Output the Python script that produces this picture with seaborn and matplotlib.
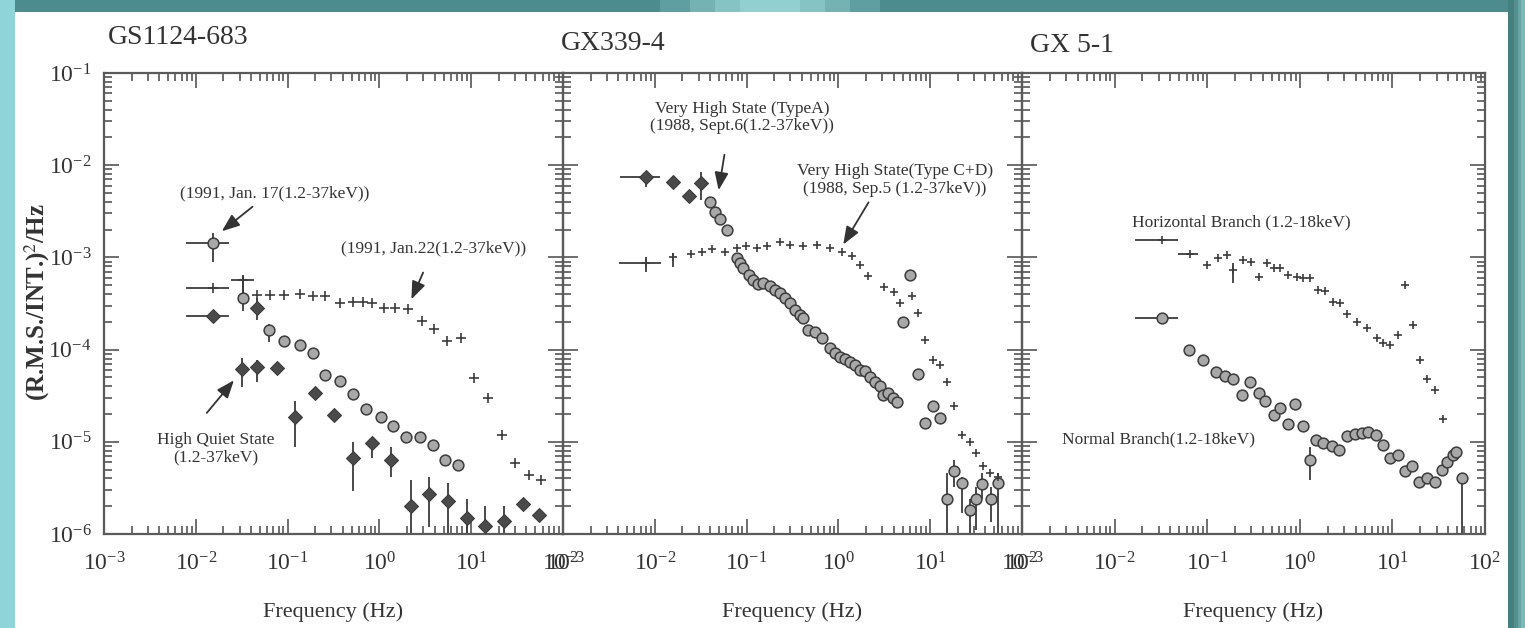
import matplotlib
matplotlib.use("Agg")
import matplotlib.pyplot as plt
import seaborn as sns
import numpy as np
from matplotlib.patches import Rectangle
from matplotlib.ticker import LogLocator, NullFormatter

sns.set_theme(style="white")
plt.rcParams['font.family'] = ['Liberation Serif', 'DejaVu Serif']
plt.rcParams['mathtext.fontset'] = 'stix'

# ---------------- data ----------------
# Panel 1: GS1124-683
p1_jan17_f = [0.0154]
p1_jan17_p = [1.42e-3]
p1_jan22_f = [0.0154, 0.0324, 0.047, 0.065, 0.092, 0.138, 0.189, 0.258, 0.37, 0.51, 0.66, 0.83,
              1.13, 1.48, 2.03, 2.9, 3.98, 5.4, 7.8, 10.7, 15.2, 21.7, 29.7, 42.5, 57]
p1_jan22_p = [4.65e-4, 5.7e-4, 3.9e-4, 3.9e-4, 3.9e-4, 4.0e-4, 3.8e-4, 3.8e-4, 3.2e-4, 3.3e-4, 3.3e-4, 3.2e-4,
              2.8e-4, 2.8e-4, 2.75e-4, 2.06e-4, 1.66e-4, 1.25e-4, 1.33e-4, 4.9e-5, 3.0e-5, 1.18e-5, 5.9e-6, 4.4e-6, 3.9e-6]
p1_dia_f = [0.0154, 0.047]
p1_dia_p = [2.3e-4, 2.8e-4]
p1_circ_f = [0.0324, 0.062, 0.092, 0.138, 0.189, 0.258, 0.37, 0.51, 0.72, 1.03, 1.41, 1.94, 2.77, 3.8, 5.2, 7.1]
p1_circ_p = [3.6e-4, 1.62e-4, 1.25e-4, 1.12e-4, 9.1e-5, 5.3e-5, 4.6e-5, 3.3e-5, 2.25e-5, 1.86e-5, 1.5e-5,
             1.13e-5, 1.13e-5, 9.2e-6, 6.4e-6, 5.6e-6]
p1_hqs_f = [0.0315, 0.047, 0.077, 0.121, 0.197, 0.32, 0.51, 0.83, 1.35, 2.2, 3.5, 5.6, 8.9, 14.3, 22.7, 37, 55]
p1_hqs_p = [6.2e-5, 6.4e-5, 6.3e-5, 1.85e-5, 3.4e-5, 1.95e-5, 6.6e-6, 9.6e-6, 6.4e-6, 2.0e-6, 2.7e-6, 2.3e-6,
            1.5e-6, 1.23e-6, 1.38e-6, 2.1e-6, 1.6e-6]
p1_err_f = [0.0154, 0.0154, 0.0324, 0.0154, 0.0324, 0.047, 0.062, 0.0315, 0.047, 0.121, 0.51, 0.83, 1.35,
            2.2, 3.5, 5.6, 8.9, 14.3, 22.7]
p1_err_p = [1.42e-3, 4.65e-4, 5.7e-4, 2.3e-4, 3.6e-4, 2.8e-4, 1.62e-4, 6.2e-5, 6.4e-5, 1.85e-5, 6.6e-6, 9.6e-6,
            6.4e-6, 2.0e-6, 2.7e-6, 2.3e-6, 1.5e-6, 1.23e-6, 1.38e-6]
p1_err_flo = [0.00785, 0.00785, 0.024, 0.00785, 0.0324, 0.047, 0.062, 0.0315, 0.047, 0.121, 0.51, 0.83, 1.35,
              2.2, 3.5, 5.6, 8.9, 14.3, 22.7]
p1_err_fhi = [0.023, 0.023, 0.043, 0.023, 0.0324, 0.047, 0.062, 0.0315, 0.047, 0.121, 0.51, 0.83, 1.35,
              2.2, 3.5, 5.6, 8.9, 14.3, 22.7]
p1_err_plo = [8.9e-4, 4.65e-4, 4.1e-4, 2.3e-4, 2.6e-4, 2.1e-4, 1.2e-4, 3.9e-5, 4.5e-5, 8.7e-6, 2.9e-6, 6.6e-6,
              4.2e-6, 1.0e-6, 1.2e-6, 1.0e-6, 1.0e-6, 1.0e-6, 1.0e-6]
p1_err_phi = [1.84e-3, 4.65e-4, 6.4e-4, 2.3e-4, 6.2e-4, 3.6e-4, 1.9e-4, 8.1e-5, 7.7e-5, 2.8e-5, 1.0e-5, 1.12e-5,
              8.7e-6, 3.9e-6, 4.2e-6, 3.6e-6, 2.4e-6, 2.0e-6, 2.0e-6]

# Panel 2: GX339-4
p2_a_dia_f = [0.0080, 0.0158, 0.0238, 0.0319]
p2_a_dia_p = [7.4e-3, 6.5e-3, 4.6e-3, 6.4e-3]
p2_a_circ_f = [0.040, 0.045, 0.051, 0.061, 0.078, 0.0848, 0.092, 0.105, 0.118, 0.134, 0.152, 0.18, 0.204,
               0.231, 0.263, 0.297, 0.337, 0.38, 0.415, 0.47, 0.556, 0.657, 0.81, 0.918, 1.04, 1.18, 1.34,
               1.52, 1.72, 1.95, 2.21, 2.5, 2.84, 3.08, 3.5, 3.96, 4.37,
               5.1, 6.0, 7.4, 8.8, 10.6, 12.8, 15.1, 18.3, 22, 27, 31.5, 37, 45.5, 55]
p2_a_circ_p = [4.0e-3, 3.1e-3, 2.6e-3, 2.0e-3, 9.8e-4, 8.6e-4, 7.6e-4, 6.45e-4, 5.7e-4, 5.2e-4, 5.3e-4, 4.9e-4,
               4.4e-4, 4.07e-4, 3.6e-4, 3.17e-4, 2.7e-4, 2.37e-4, 2.19e-4, 1.63e-4, 1.56e-4, 1.32e-4, 1.03e-4,
               9.1e-5, 8.4e-5, 8.0e-5, 7.4e-5, 6.8e-5, 6.0e-5, 5.8e-5, 5.1e-5, 4.5e-5, 4.0e-5, 3.2e-5, 3.4e-5,
               2.95e-5, 2.7e-5,
               2.0e-4, 6.4e-4, 5.5e-5, 1.6e-5, 2.45e-5, 1.8e-5, 2.4e-6, 4.8e-6, 3.6e-6, 1.8e-6, 2.4e-6, 3.5e-6,
               2.4e-6, 3.6e-6]
p2_cd_f = [0.0080, 0.0158, 0.0251, 0.0325, 0.0417, 0.058, 0.078, 0.099, 0.129, 0.166, 0.231, 0.297, 0.41,
           0.58, 0.81, 1.09, 1.40, 1.72, 2.12, 3.1, 4.0, 4.7, 6.3, 7.4, 8.8, 10.7, 12.8, 15.4, 18.3, 22, 27,
           31.5, 38, 45, 55]
p2_cd_p = [8.8e-4, 1.0e-3, 1.1e-3, 1.15e-3, 1.23e-3, 1.15e-3, 1.25e-3, 1.32e-3, 1.25e-3, 1.32e-3, 1.48e-3,
           1.36e-3, 1.32e-3, 1.36e-3, 1.25e-3, 1.15e-3, 1.03e-3, 8.3e-4, 6.3e-4, 4.8e-4, 4.2e-4, 3.2e-4, 3.8e-4,
           2.5e-4, 1.26e-4, 7.7e-5, 6.8e-5, 4.4e-5, 2.45e-5, 1.18e-5, 1.0e-5, 7.5e-6, 5.4e-6, 4.6e-6, 4.2e-6]
p2_err_f = [0.0080, 0.0319, 0.0080, 0.0158, 15.1, 18.3, 22, 27, 31.5, 37, 45.5, 55]
p2_err_p = [7.4e-3, 6.4e-3, 8.8e-4, 1.0e-3, 2.4e-6, 4.8e-6, 3.6e-6, 1.8e-6, 2.4e-6, 3.5e-6, 2.4e-6, 3.6e-6]
p2_err_flo = [0.0042, 0.0319, 0.0041, 0.0158, 15.1, 18.3, 22, 27, 31.5, 37, 45.5, 55]
p2_err_fhi = [0.0115, 0.0319, 0.0118, 0.0158, 15.1, 18.3, 22, 27, 31.5, 37, 45.5, 55]
p2_err_plo = [5.8e-3, 4.2e-3, 7.0e-4, 7.8e-4, 1.0e-6, 3.2e-6, 1.7e-6, 1.0e-6, 1.1e-6, 2.4e-6, 1.35e-6, 1.0e-6]
p2_err_phi = [8.4e-3, 8.4e-3, 1.0e-3, 1.13e-3, 4.6e-6, 6.3e-6, 4.2e-6, 2.4e-6, 3.2e-6, 4.6e-6, 3.2e-6, 4.6e-6]

# Panel 3: GX 5-1
p3_hb_f = [0.0325, 0.065, 0.099, 0.132, 0.162, 0.188, 0.245, 0.30, 0.36, 0.44, 0.52, 0.61, 0.75, 0.925,
           1.09, 1.29, 1.58, 1.87, 2.27, 2.72, 3.2, 4.1, 5.3, 6.8, 7.9, 9.4, 11.5, 13.7, 16.8, 19.9, 23.5,
           28.8, 35]
p3_hb_p = [1.55e-3, 1.1e-3, 8.3e-4, 9.8e-4, 1.06e-3, 7.3e-4, 9.3e-4, 9.0e-4, 6.2e-4, 8.6e-4, 7.6e-4, 7.6e-4,
           6.4e-4, 6.2e-4, 6.0e-4, 6.0e-4, 4.4e-4, 4.3e-4, 3.3e-4, 3.2e-4, 2.44e-4, 2.0e-4, 1.7e-4, 1.32e-4,
           1.17e-4, 1.12e-4, 1.44e-4, 5.0e-4, 1.87e-4, 7.7e-5, 4.8e-5, 3.65e-5, 1.75e-5]
p3_nb_f = [0.0325, 0.063, 0.091, 0.126, 0.155, 0.188, 0.236, 0.29, 0.36, 0.42, 0.52, 0.61, 0.75, 0.89, 1.07,
           1.29, 1.51, 1.79, 2.21, 2.67, 3.2, 3.95, 4.7, 5.5, 6.65, 7.9, 9.4, 11.6, 13.7, 16.1, 19.6, 23.8,
           28.8, 34, 39, 45.5, 49, 57]
p3_nb_p = [2.2e-4, 1.0e-4, 7.7e-5, 5.7e-5, 5.2e-5, 4.8e-5, 3.2e-5, 4.4e-5, 3.4e-5, 2.8e-5, 1.94e-5, 2.3e-5,
           1.55e-5, 2.56e-5, 1.5e-5, 6.3e-6, 1.05e-5, 9.6e-6, 8.9e-6, 8.2e-6, 1.15e-5, 1.23e-5, 1.25e-5,
           1.29e-5, 1.18e-5, 9.3e-6, 6.6e-6, 7.2e-6, 4.8e-6, 5.5e-6, 3.7e-6, 4.0e-6, 3.7e-6, 4.9e-6, 6.0e-6,
           7.2e-6, 7.8e-6, 4.0e-6]
p3_err_f = [0.0325, 0.065, 0.188, 0.0325, 1.29, 57]
p3_err_p = [1.55e-3, 1.1e-3, 7.3e-4, 2.2e-4, 6.3e-6, 4.0e-6]
p3_err_flo = [0.0166, 0.0484, 0.188, 0.0166, 1.29, 57]
p3_err_fhi = [0.0484, 0.079, 0.188, 0.0484, 1.29, 57]
p3_err_plo = [1.55e-3, 1.1e-3, 5.3e-4, 2.2e-4, 3.9e-6, 1.0e-6]
p3_err_phi = [1.55e-3, 1.1e-3, 8.8e-4, 2.2e-4, 8.7e-6, 4.6e-6]

titles = ["GS1124-683", "GX339-4", "GX 5-1"]
xlabel = "Frequency (Hz)"
ylabel = "(R.M.S./INT.)$^2$/Hz"

# ---------------- figure ----------------
W, H = 1525, 628
fig = plt.figure(figsize=(W / 100, H / 100), dpi=100)
fig.patch.set_facecolor('#5a9a9c')


def frect(x0, y0, x1, y1, color, z=-10, alpha=1.0):
    fig.add_artist(Rectangle((x0 / W, 1 - y1 / H), (x1 - x0) / W, (y1 - y0) / H,
                             transform=fig.transFigure, color=color, zorder=z, lw=0, alpha=alpha))


# decorative slide background
frect(0, 0, W, 12, '#4d8c8e')
for half, a in [(110, 0.25), (80, 0.35), (55, 0.45), (30, 0.6)]:
    frect(770 - half, 0, 770 + half, 12, '#9ad8da', alpha=a)
frect(0, 0, 15, H, '#8fd4d9')
frect(1508, 0, W, H, '#45807f')
frect(1514, 0, W, H, '#558f8f')
frect(1518, 0, W, H, '#68a6a6')
frect(1521, 0, W, H, '#7cbaba')
frect(15, 12, 1508, H, 'white', z=-9)

INK = '#3c3c3c'
GRAY_FILL = '#a8a8a8'

bottom = 1 - 534 / H
height = (534 - 73) / H
lefts = [104, 563, 1022]
rights = [563, 1022, 1485]
axes = []
for l, r in zip(lefts, rights):
    ax = fig.add_axes([l / W, bottom, (r - l) / W, height])
    ax.set_facecolor('none')
    axes.append(ax)


def draw_err(ax, f, p, flo, fhi, plo, phi):
    f = np.array(f); p = np.array(p)
    xerr = [f - np.array(flo), np.array(fhi) - f]
    yerr = [p - np.array(plo), np.array(phi) - p]
    ax.errorbar(f, p, xerr=xerr, yerr=yerr, fmt='none', ecolor=INK, elinewidth=1.3, capsize=0, zorder=2)


def circles(ax, f, p):
    sns.scatterplot(x=f, y=p, ax=ax, marker='o', s=60, color=GRAY_FILL, edgecolor=INK, linewidth=1.1, zorder=3)


def diamonds(ax, f, p):
    sns.scatterplot(x=f, y=p, ax=ax, marker='D', s=50, color='#4a4a4a', edgecolor=INK, linewidth=0.8, zorder=3)


def pluses(ax, f, p, s=55):
    sns.scatterplot(x=f, y=p, ax=ax, marker='+', s=s, color=INK, linewidth=1.2, zorder=3)


ax1, ax2, ax3 = axes
# panel 1
draw_err(ax1, p1_err_f, p1_err_p, p1_err_flo, p1_err_fhi, p1_err_plo, p1_err_phi)
circles(ax1, p1_jan17_f, p1_jan17_p)
pluses(ax1, p1_jan22_f, p1_jan22_p)
diamonds(ax1, p1_dia_f, p1_dia_p)
circles(ax1, p1_circ_f, p1_circ_p)
diamonds(ax1, p1_hqs_f, p1_hqs_p)
# panel 2
draw_err(ax2, p2_err_f, p2_err_p, p2_err_flo, p2_err_fhi, p2_err_plo, p2_err_phi)
diamonds(ax2, p2_a_dia_f, p2_a_dia_p)
circles(ax2, p2_a_circ_f, p2_a_circ_p)
pluses(ax2, p2_cd_f, p2_cd_p, s=40)
# panel 3
draw_err(ax3, p3_err_f, p3_err_p, p3_err_flo, p3_err_fhi, p3_err_plo, p3_err_phi)
pluses(ax3, p3_hb_f, p3_hb_p, s=40)
circles(ax3, p3_nb_f, p3_nb_p)

for i, ax in enumerate(axes):
    ax.set_xscale('log')
    ax.set_yscale('log')
    ax.set_xlim(1e-3, 1e2)
    ax.set_ylim(1e-6, 1e-1)
    ax.xaxis.set_major_locator(LogLocator(base=10, numticks=10))
    ax.yaxis.set_major_locator(LogLocator(base=10, numticks=10))
    ax.xaxis.set_minor_locator(LogLocator(base=10, subs=np.arange(2, 10), numticks=20))
    ax.yaxis.set_minor_locator(LogLocator(base=10, subs=np.arange(2, 10), numticks=20))
    ax.xaxis.set_minor_formatter(NullFormatter())
    ax.yaxis.set_minor_formatter(NullFormatter())
    ax.tick_params(which='both', direction='in', top=True, right=True, bottom=True, left=True,
                   color='#555555', width=1.2)
    ax.tick_params(which='major', length=11, labelsize=17, labelcolor='#333333', pad=9)
    ax.tick_params(axis='x', which='major', pad=13)
    ax.tick_params(which='minor', length=5.5)
    if i > 0:
        ax.tick_params(axis='y', labelleft=False)
    for sp in ax.spines.values():
        sp.set_color('#5a5a5a')
        sp.set_linewidth(1.6)
    ax.set_xlabel('')
    ax.set_ylabel('')
    ax.grid(False)

# panel titles and axis labels
title_pos = [(108, 37), (561, 43), (1030, 45)]
for t, (x, y) in zip(titles, title_pos):
    fig.text(x / W, 1 - y / H, t, fontsize=20, color='#333333', ha='left', va='center')
for l, r in zip(lefts, rights):
    fig.text((l + r) / 2 / W, 1 - 612 / H, xlabel, fontsize=16, color='#333333', ha='center', va='center')
fig.text(37 / W, 1 - 302 / H, ylabel, fontsize=18, fontweight='bold', color='#333333',
         rotation=90, ha='center', va='center')

ANN = dict(fontsize=12.5, color='#333333', ha='center', va='center', linespacing=1.1)
ARR = dict(arrowstyle='-|>,head_length=0.9,head_width=0.35', color='#333333', lw=1.3)

ax1.text(0.072, 5.0e-3, "(1991, Jan. 17(1.2-37keV))", **ANN)
ax1.annotate('', xy=(0.0182, 1.84e-3), xytext=(0.0438, 3.7e-3), arrowprops=ARR)
ax1.text(3.9, 1.26e-3, "(1991, Jan.22(1.2-37keV))", **ANN)
ax1.annotate('', xy=(2.17, 3.3e-4), xytext=(3.08, 7.3e-4), arrowprops=ARR)
ax1.text(0.0165, 8.5e-6, "High Quiet State\n(1.2-37keV)", **ANN)
ax1.annotate('', xy=(0.0272, 4.9e-5), xytext=(0.0126, 1.95e-5), arrowprops=ARR)

ax2.text(0.089, 3.3e-2, "Very High State (TypeA)\n(1988, Sept.6(1.2-37keV))", **ANN)
ax2.annotate('', xy=(0.049, 5.0e-3), xytext=(0.058, 1.39e-2), arrowprops=ARR)
ax2.text(4.14, 6.9e-3, "Very High State(Type C+D)\n(1988, Sep.5 (1.2-37keV))", **ANN)
ax2.annotate('', xy=(1.09, 1.3e-3), xytext=(2.21, 4.2e-3), arrowprops=ARR)

ax3.text(0.232, 2.42e-3, "Horizontal Branch (1.2-18keV)", **ANN)
ax3.text(0.0295, 1.05e-5, "Normal Branch(1.2-18keV)", **ANN)

fig.savefig('out.png', dpi=100, facecolor=fig.get_facecolor())
